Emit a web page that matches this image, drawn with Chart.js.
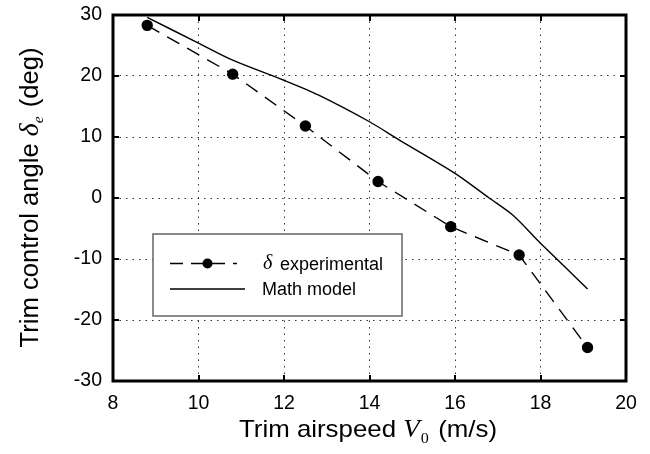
<!DOCTYPE html>
<html>
<head>
<meta charset="utf-8">
<script src="https://cdn.jsdelivr.net/npm/chart.js@4"></script>
<style>
html,body{margin:0;padding:0;background:#fff;}
#wrap{width:650px;height:454px;position:relative;}
</style>
</head>
<body>
<div id="wrap"><canvas id="c" width="650" height="454"></canvas></div>
<script>
// Data
const expSpeed = [8.8, 10.8, 12.5, 14.2, 15.9, 17.5, 19.1];
const expAngle = [28.3, 20.3, 11.8, 2.7, -4.7, -9.35, -24.5];
const modelSpeed = [8.8, 10.0, 10.8, 12.0, 12.8, 14.0, 14.7, 16.0, 16.8, 17.35, 18.0, 19.1];
const modelAngle = [29.6, 25.4, 22.6, 19.3, 16.9, 12.5, 9.5, 4.05, 0.0, -2.8, -7.4, -14.9];
const xTicks = [8, 10, 12, 14, 16, 18, 20];
const yTicks = [-30, -20, -10, 0, 10, 20, 30];
const legendLabels = ['experimental', 'Math model'];

const SANS = '"Liberation Sans", Arial, sans-serif';
const SERIF = '"Liberation Serif", "Times New Roman", serif';

function pts(xs, ys){ return xs.map((x,i)=>({x:x, y:ys[i]})); }

function segWidth(ctx, segs){
  let total = 0;
  segs.forEach(s=>{ ctx.font = s.f; total += ctx.measureText(s.t).width + (s.gap||0); });
  return total;
}
function drawSegs(ctx, segs, x, y, align, target){
  const total = segWidth(ctx, segs);
  const sx = target ? target/total : 1;
  ctx.save();
  ctx.translate(x, y);
  ctx.scale(sx, 1);
  let cx = align==='center' ? -total/2 : 0;
  segs.forEach(s=>{
    ctx.font = s.f;
    ctx.fillText(s.t, cx, (s.dy||0));
    cx += ctx.measureText(s.t).width + (s.gap||0);
  });
  ctx.restore();
}

const overlay = {
  id:'overlay',
  afterDraw(chart){
    const ctx = chart.ctx;
    const a = chart.chartArea;
    const xs = chart.scales.x, ys = chart.scales.y;
    ctx.save();
    // inward tick marks
    ctx.strokeStyle = '#000';
    ctx.lineWidth = 2;
    ctx.beginPath();
    xTicks.forEach(v=>{
      const px = Math.round(xs.getPixelForValue(v));
      ctx.moveTo(px, a.top); ctx.lineTo(px, a.top+6);
      ctx.moveTo(px, a.bottom); ctx.lineTo(px, a.bottom-6);
    });
    yTicks.forEach(v=>{
      const py = Math.round(ys.getPixelForValue(v));
      ctx.moveTo(a.left, py); ctx.lineTo(a.left+6, py);
      ctx.moveTo(a.right, py); ctx.lineTo(a.right-6, py);
    });
    ctx.stroke();
    // thick border
    ctx.lineWidth = 3;
    ctx.strokeRect(a.left, a.top, a.right-a.left, a.bottom-a.top);

    // legend box
    const lx = 153, ly = 234, lw = 249, lh = 82;
    ctx.fillStyle = '#fff';
    ctx.fillRect(lx, ly, lw, lh);
    ctx.strokeStyle = '#666';
    ctx.lineWidth = 1.5;
    ctx.strokeRect(lx, ly, lw, lh);

    ctx.strokeStyle = '#000';
    ctx.lineWidth = 1.3;
    ctx.setLineDash([13, 8]);
    ctx.beginPath(); ctx.moveTo(170, 263.5); ctx.lineTo(237, 263.5); ctx.stroke();
    ctx.setLineDash([]);
    ctx.fillStyle = '#000';
    ctx.beginPath(); ctx.arc(207.5, 263.5, 5, 0, Math.PI*2); ctx.fill();
    ctx.beginPath(); ctx.moveTo(170, 289); ctx.lineTo(245, 289); ctx.stroke();

    ctx.textBaseline = 'middle';
    ctx.textAlign = 'left';
    drawSegs(ctx, [{t:'\u03B4', f:'italic 20px '+SERIF}], 263, 264, 'left');
    drawSegs(ctx, [{t:legendLabels[0], f:'18px '+SANS}], 280, 265, 'left');
    drawSegs(ctx, [{t:legendLabels[1], f:'18px '+SANS}], 262, 290, 'left');

    // x title
    ctx.textBaseline = 'alphabetic';
    drawSegs(ctx, [
      {t:'Trim airspeed ', f:'24px '+SANS},
      {t:'V', f:'italic 25px '+SERIF, gap:1},
      {t:'0', f:'15px '+SERIF, dy:6, gap:2},
      {t:' (m/s)', f:'24px '+SANS}
    ], 368, 437, 'center', 258);

    // y title
    ctx.translate(38, 197.5);
    ctx.rotate(-Math.PI/2);
    drawSegs(ctx, [
      {t:'Trim control angle ', f:'25px '+SANS},
      {t:'\u03B4', f:'italic 27px '+SERIF},
      {t:'e', f:'italic 15px '+SERIF, dy:5, gap:2},
      {t:' (deg)', f:'25px '+SANS}
    ], 0, 0, 'center', 300);
    ctx.restore();
  }
};

new Chart(document.getElementById('c'), {
  type:'scatter',
  data:{
    datasets:[
      {
        label:'experimental',
        data:pts(expSpeed, expAngle),
        showLine:true,
        borderColor:'#000',
        backgroundColor:'#000',
        borderWidth:1.4,
        borderDash:[14, 9],
        pointRadius:5,
        pointHoverRadius:5,
        tension:0
      },
      {
        label:'Math model',
        data:pts(modelSpeed, modelAngle),
        showLine:true,
        borderColor:'#000',
        borderWidth:1.4,
        pointRadius:0,
        tension:0.3
      }
    ]
  },
  options:{
    responsive:false,
    animation:false,
    layout:{padding:{top:15, right:24, bottom:0, left:0}},
    plugins:{legend:{display:false}, tooltip:{enabled:false}},
    scales:{
      x:{
        type:'linear', min:8, max:20,
        afterBuildTicks(s){ s.ticks = xTicks.map(v=>({value:v})); },
        afterFit(s){ s.height = 73; s.paddingLeft = 0; s.paddingRight = 0; },
        grid:{color:'#333', lineWidth:1, drawTicks:false},
        border:{display:false, dash:[1.5,5]},
        ticks:{color:'#000', font:{family:SANS, size:19.5}, padding:11, maxRotation:0}
      },
      y:{
        type:'linear', min:-30, max:30,
        afterBuildTicks(s){ s.ticks = yTicks.map(v=>({value:v})); },
        afterFit(s){ s.width = 113; s.paddingTop = 0; s.paddingBottom = 0; },
        grid:{color:'#333', lineWidth:1, drawTicks:false},
        border:{display:false, dash:[1.5,5]},
        ticks:{color:'#000', font:{family:SANS, size:19.5}, padding:11}
      }
    }
  },
  plugins:[overlay]
});
</script>
</body>
</html>
